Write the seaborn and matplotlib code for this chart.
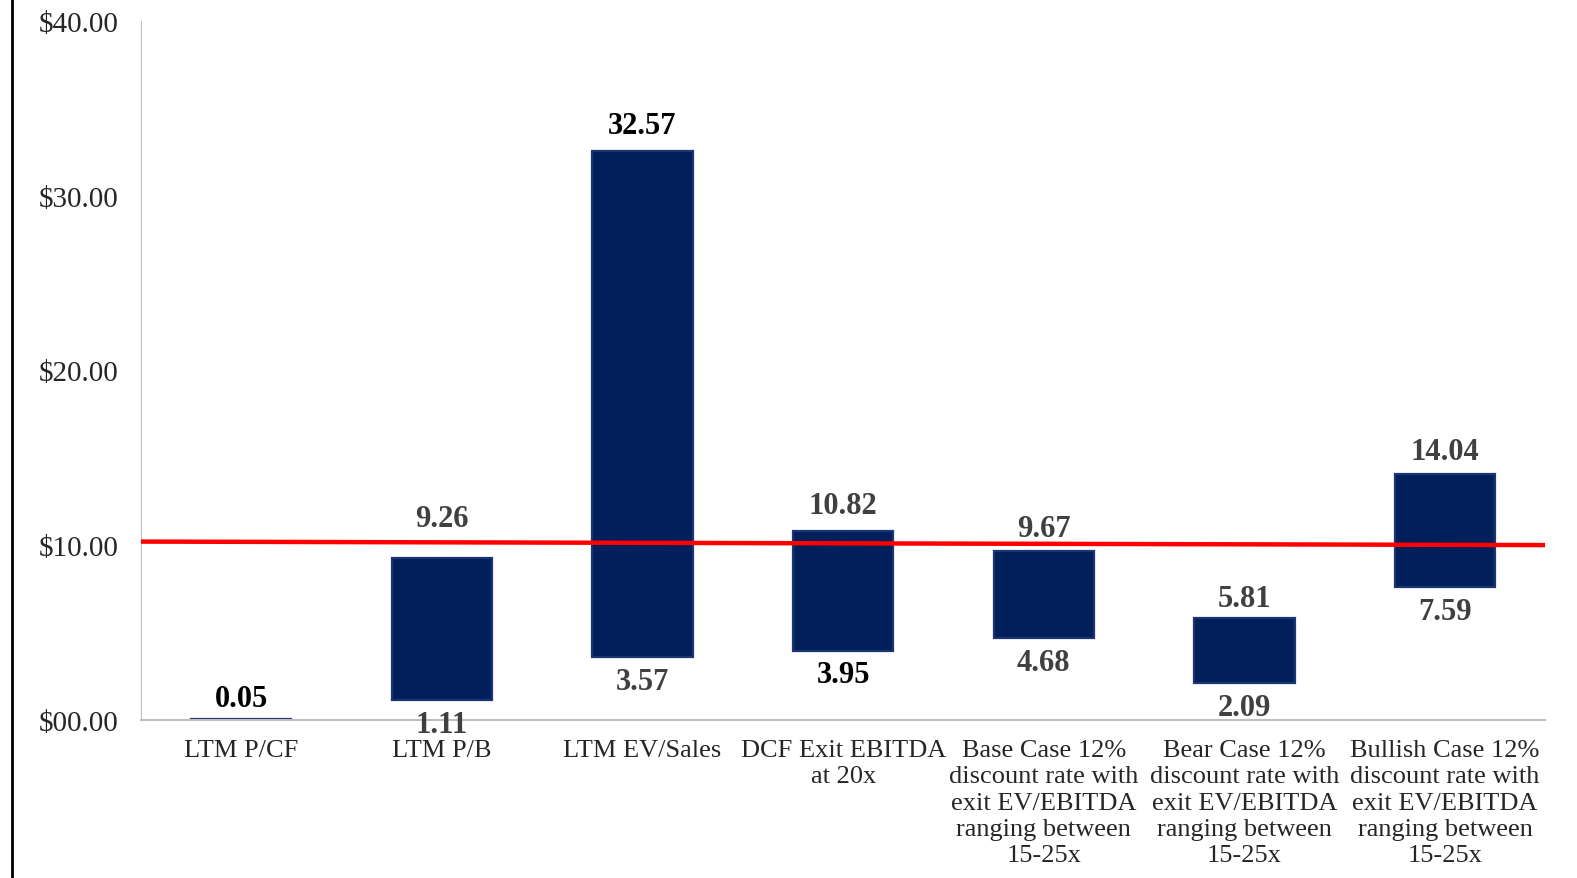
import matplotlib
matplotlib.use('Agg')
import matplotlib.pyplot as plt
import seaborn as sns
from matplotlib.lines import Line2D

# ---- data ----
categories = [
    'LTM P/CF',
    'LTM P/B',
    'LTM EV/Sales',
    'DCF Exit EBITDA\nat 20x',
    'Base Case 12%\ndiscount rate with\nexit EV/EBITDA\nranging between\n15-25x',
    'Bear Case 12%\ndiscount rate with\nexit EV/EBITDA\nranging between\n15-25x',
    'Bullish Case 12%\ndiscount rate with\nexit EV/EBITDA\nranging between\n15-25x',
]
low_values = [0.00, 1.11, 3.57, 3.95, 4.68, 2.09, 7.59]
high_values = [0.05, 9.26, 32.57, 10.82, 9.67, 5.81, 14.04]
show_low_label = [False, True, True, True, True, True, True]
ref_line_values = [10.2, 10.0]   # red reference line, left end / right end
y_ticks = [0, 10, 20, 30, 40]

heights = [h - l for h, l in zip(high_values, low_values)]

sns.set_style('white')
plt.rcParams['font.family'] = ['Liberation Serif', 'DejaVu Serif']

fig = plt.figure(figsize=(15.77, 8.79), dpi=100)
ax = fig.add_axes([0.0893, 0.180, 0.8907, 0.795])

sns.barplot(x=categories, y=heights, bottom=low_values, color='#001F5B',
            saturation=1, width=0.5, errorbar=None, ax=ax,
            edgecolor='#1A3573', linewidth=1.6)

# red reference line across the plot
ax.plot([-0.5, 6.5], ref_line_values, color='#FF0000', linewidth=3.2,
        solid_capstyle='butt', zorder=5)

# value labels (the P/B top label sits a bit higher so it clears the red line)
dark = '#404040'
top_colors = ['black', dark, 'black', dark, dark, dark, dark]
low_colors = [dark, dark, dark, 'black', dark, dark, dark]
top_offsets = [4, 18, 8, 8, 6, 4, 6]
for i, (lo, hi) in enumerate(zip(low_values, high_values)):
    ax.annotate(f'{hi:.2f}', xy=(i, hi), xytext=(0, top_offsets[i]),
                textcoords='offset points', ha='center', va='bottom',
                fontsize=22, fontweight='bold', color=top_colors[i], zorder=6)
    if show_low_label[i]:
        ax.annotate(f'{lo:.2f}', xy=(i, lo), xytext=(0, -7),
                    textcoords='offset points', ha='center', va='top',
                    fontsize=22, fontweight='bold', color=low_colors[i], zorder=6)

ax.set_xlim(-0.5, 6.5)
ax.set_ylim(0, 40)
ax.set_yticks(y_ticks)
ax.set_yticklabels([f'${v:05.2f}' for v in y_ticks], fontsize=21)
ax.tick_params(axis='y', length=0, pad=16)
ax.tick_params(axis='x', length=0, pad=14, labelsize=19)
for lbl in ax.get_xticklabels():
    lbl.set_linespacing(1.25)
ax.set_xlabel('')
ax.set_ylabel('')

sns.despine(ax=ax, top=True, right=True)
ax.spines['left'].set_color('#BFBFBF')
ax.spines['bottom'].set_color('#BFBFBF')
ax.spines['bottom'].set_linewidth(1.5)

# black border line on the far left of the image
fig.add_artist(Line2D([0.0075, 0.0075], [0, 1], color='black', linewidth=2,
                      transform=fig.transFigure))

plt.savefig('out.png', dpi=100)
